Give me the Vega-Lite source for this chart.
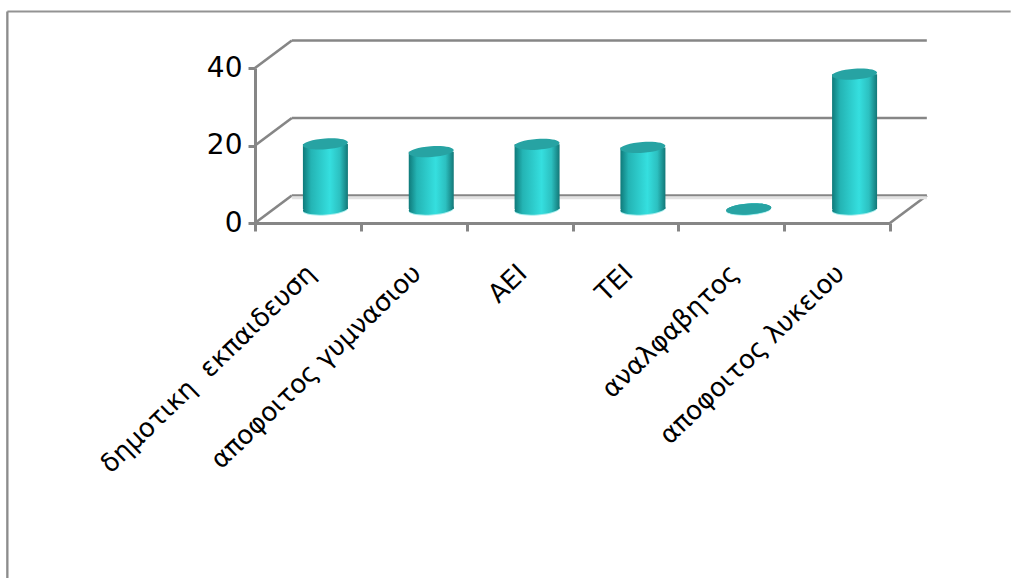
{"$schema":"https://vega.github.io/schema/vega-lite/v6.json","autosize":{"type":"none"},"padding":{"left":255,"top":68,"right":121,"bottom":355},"width":635,"height":155,"background":"#ffffff","config":{"view":{"stroke":null}},
"datasets":{"bars":[{"level":"δημοτικη\u00a0 εκπαιδευση","value":16.8},{"level":"αποφοιτος γυμνασιου","value":14.8},{"level":"ΑΕΙ","value":16.7},{"level":"ΤΕΙ","value":15.9},{"level":"αναλφαβητος","value":0},{"level":"αποφοιτος λυκειου","value":34.8}],
"segments":[{"a":-0.39,"b":1.19,"v":54.6,"w":54.6,"kind":"frame"},{"a":-0.39,"b":-0.39,"v":54.6,"w":-91.6,"kind":"frameL"},{"a":0,"b":0.058,"v":0,"w":7.1,"kind":"grid"},{"a":0,"b":0.058,"v":20,"w":27.1,"kind":"grid"},{"a":0,"b":0.058,"v":40,"w":47.1,"kind":"grid"},{"a":1,"b":1.058,"v":0,"w":7.1,"kind":"grid"},{"a":0.058,"b":1.058,"v":7.1,"w":7.1,"kind":"grid"},{"a":0.058,"b":1.058,"v":27.1,"w":27.1,"kind":"grid"},{"a":0.058,"b":1.058,"v":47.1,"w":47.1,"kind":"grid"},{"a":0.058,"b":1.058,"v":6.5,"w":6.5,"kind":"shade"}]},
"layer":[
{"data":{"name":"segments"},"mark":{"type":"rule","clip":false},"encoding":{"x":{"field":"a","type":"quantitative","scale":{"domain":[0,1],"nice":false,"zero":false},"axis":null},"x2":{"field":"b"},"y":{"field":"v","type":"quantitative","scale":{"domain":[0,40],"nice":false},"axis":{"values":[0,20,40],"title":null,"grid":false,"domainColor":"#868686","domainWidth":3,"tickColor":"#868686","tickWidth":3,"tickSize":7,"labelFontSize":28,"labelFont":"DejaVu Sans","labelColor":"#000000","labelPadding":6}},"y2":{"field":"w"},"color":{"field":"kind","type":"nominal","legend":null,"scale":{"domain":["frame","frameL","grid","shade"],"range":["#939393","#8c8c8c","#868686","#e2e2e2"]}},"strokeWidth":{"field":"kind","type":"nominal","legend":null,"scale":{"domain":["frame","frameL","grid","shade"],"range":[2,3,3.2,2.5]}}}},
{"data":{"name":"bars"},"mark":{"type":"point","filled":true,"size":2025,"opacity":1,"xOffset":17.5,"yOffset":-13,"shape":"M-1,0.07 A1,0.24 -4 1 1 1,-0.07 A1,0.24 -4 1 1 -1,0.07 Z","fill":"#a8eeee"},"encoding":{"x":{"field":"level","type":"nominal","sort":null,"scale":{"paddingInner":0,"paddingOuter":0},"axis":null},"y":{"datum":0,"type":"quantitative"}}},
{"data":{"name":"bars"},"mark":{"type":"point","filled":true,"size":2025,"opacity":1,"xOffset":17.5,"yOffset":-14,"shape":"M-1,0.07 A1,0.24 -4 1 1 1,-0.07 A1,0.24 -4 1 1 -1,0.07 Z","fill":{"x1":0,"x2":1,"y1":0,"y2":0,"gradient":"linear","stops":[{"offset":0,"color":"#0f7a7a"},{"offset":0.18,"color":"#24b4b4"},{"offset":0.6,"color":"#35dfdf"},{"offset":0.82,"color":"#2cc0c0"},{"offset":1,"color":"#137777"}]}},"encoding":{"x":{"field":"level","type":"nominal","sort":null,"scale":{"paddingInner":0,"paddingOuter":0},"axis":null},"y":{"datum":0,"type":"quantitative"}}},
{"data":{"name":"bars"},"mark":{"type":"bar","width":45,"xOffset":17.5,"yOffset":-14,"fill":{"x1":0,"x2":1,"y1":0,"y2":0,"gradient":"linear","stops":[{"offset":0,"color":"#0f7a7a"},{"offset":0.18,"color":"#24b4b4"},{"offset":0.6,"color":"#35dfdf"},{"offset":0.82,"color":"#2cc0c0"},{"offset":1,"color":"#137777"}]}},"encoding":{"x":{"field":"level","type":"nominal","sort":null,"scale":{"paddingInner":0,"paddingOuter":0},"axis":{"title":null,"labelAngle":-44,"labelAlign":"right","labelBaseline":"middle","labelFontSize":26,"labelFont":"DejaVu Sans","labelColor":"#000000","labelPadding":38,"labelOffset":3,"labelLimit":500,"tickBand":"extent","tickColor":"#868686","tickWidth":3,"tickSize":8,"domainColor":"#868686","domainWidth":3}},"y":{"field":"value","type":"quantitative"}}},
{"data":{"name":"bars"},"mark":{"type":"point","filled":true,"size":2025,"opacity":1,"xOffset":17.5,"yOffset":-14,"fill":"#27a3a3","shape":"M-1,0.07 A1,0.24 -4 1 1 1,-0.07 A1,0.24 -4 1 1 -1,0.07 Z"},"encoding":{"x":{"field":"level","type":"nominal","sort":null,"scale":{"paddingInner":0,"paddingOuter":0},"axis":null},"y":{"field":"value","type":"quantitative"}}}
],"resolve":{"scale":{"x":"independent"}}}
